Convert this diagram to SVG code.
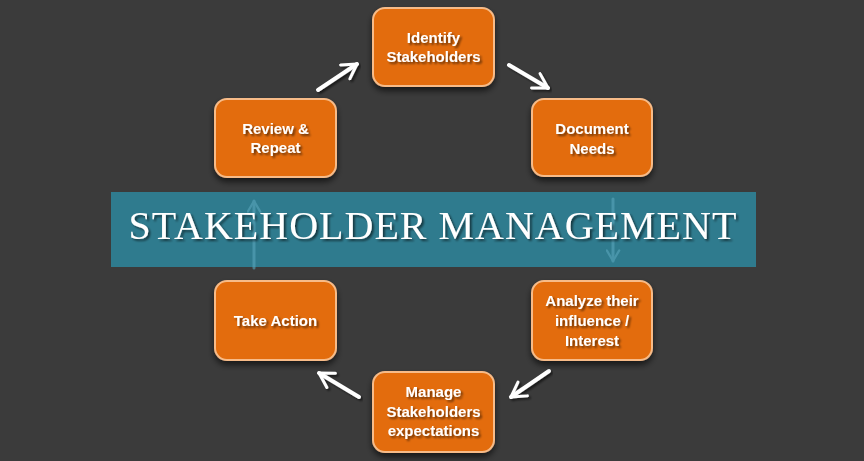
<svg xmlns="http://www.w3.org/2000/svg" width="864" height="461" viewBox="0 0 864 461">
<defs>
<style>
.node rect{fill:#e36c0a;stroke:#f7bb88;stroke-width:2;}
.node text{fill:#ffffff;font-family:"Liberation Sans",Arial,sans-serif;font-weight:bold;font-size:15px;text-anchor:middle;}
.conn{stroke:#ffffff;stroke-width:4;fill:none;stroke-linecap:round;}
.faint{stroke:#5aa6bb;stroke-width:3;fill:none;stroke-linecap:round;opacity:0.6;}
.title{fill:#ffffff;font-family:"Liberation Serif","Times New Roman",serif;font-size:40px;letter-spacing:1px;}
</style>
<filter id="sh" x="-20%" y="-20%" width="140%" height="150%">
<feGaussianBlur in="SourceAlpha" stdDeviation="3"/>
<feOffset dx="0" dy="4" result="b"/>
<feComponentTransfer><feFuncA type="linear" slope="0.6"/></feComponentTransfer>
<feMerge><feMergeNode/><feMergeNode in="SourceGraphic"/></feMerge>
</filter>
<filter id="tsh" x="-10%" y="-30%" width="120%" height="160%">
<feGaussianBlur in="SourceAlpha" stdDeviation="1.2"/>
<feOffset dx="1.5" dy="2"/>
<feComponentTransfer><feFuncA type="linear" slope="0.55"/></feComponentTransfer>
<feMerge><feMergeNode/><feMergeNode in="SourceGraphic"/></feMerge>
</filter>
<marker id="ah" viewBox="0 0 12 12" refX="10" refY="6" markerWidth="5" markerHeight="5" markerUnits="strokeWidth" orient="auto">
<path d="M1.5,1 L10,6 L1.5,11" fill="none" stroke="#ffffff" stroke-width="1.8" stroke-linecap="round" stroke-linejoin="round"/>
</marker>
<marker id="ahf" viewBox="0 0 12 12" refX="10" refY="6" markerWidth="5" markerHeight="5" markerUnits="strokeWidth" orient="auto">
<path d="M1.5,1 L10,6 L1.5,11" fill="none" stroke="#5aa6bb" stroke-width="1.8" stroke-linecap="round" stroke-linejoin="round"/>
</marker>
</defs>
<rect x="0" y="0" width="864" height="461" fill="#3b3b3b"/>

<g id="banner">
<rect x="111" y="192" width="645" height="75" fill="#2f7b8e"/>
</g>

<g id="connectors">
<line class="conn" x1="318" y1="90" x2="357" y2="64" marker-end="url(#ah)" filter="url(#tsh)"/>
<line class="conn" x1="509" y1="65" x2="548" y2="88" marker-end="url(#ah)" filter="url(#tsh)"/>
<line class="conn" x1="549" y1="371" x2="511" y2="397" marker-end="url(#ah)" filter="url(#tsh)"/>
<line class="conn" x1="359" y1="397" x2="319" y2="373" marker-end="url(#ah)" filter="url(#tsh)"/>
<line class="faint" x1="613" y1="199" x2="613" y2="261" marker-end="url(#ahf)"/>
<line class="faint" x1="254" y1="268" x2="254" y2="201" marker-end="url(#ahf)"/>
</g>

<text class="title" x="433" y="239" text-anchor="middle" filter="url(#tsh)">STAKEHOLDER MANAGEMENT</text>

<g id="identify" class="node">
<rect x="373" y="8" width="121" height="78" rx="12" filter="url(#sh)"/>
<text x="433.5" y="43" filter="url(#tsh)">Identify</text>
<text x="433.5" y="62" filter="url(#tsh)">Stakeholders</text>
</g>
<g id="document" class="node">
<rect x="532" y="99" width="120" height="77" rx="12" filter="url(#sh)"/>
<text x="592" y="134" filter="url(#tsh)">Document</text>
<text x="592" y="154" filter="url(#tsh)">Needs</text>
</g>
<g id="analyze" class="node">
<rect x="532" y="281" width="120" height="79" rx="12" filter="url(#sh)"/>
<text x="592" y="306" filter="url(#tsh)">Analyze their</text>
<text x="592" y="326" filter="url(#tsh)">influence /</text>
<text x="592" y="346" filter="url(#tsh)">Interest</text>
</g>
<g id="manage" class="node">
<rect x="373" y="372" width="121" height="80" rx="12" filter="url(#sh)"/>
<text x="433.5" y="397" filter="url(#tsh)">Manage</text>
<text x="433.5" y="417" filter="url(#tsh)">Stakeholders</text>
<text x="433.5" y="436" filter="url(#tsh)">expectations</text>
</g>
<g id="takeaction" class="node">
<rect x="215" y="281" width="121" height="79" rx="12" filter="url(#sh)"/>
<text x="275.5" y="326" filter="url(#tsh)">Take Action</text>
</g>
<g id="review" class="node">
<rect x="215" y="99" width="121" height="78" rx="12" filter="url(#sh)"/>
<text x="275.5" y="134" filter="url(#tsh)">Review &amp;</text>
<text x="275.5" y="153" filter="url(#tsh)">Repeat</text>
</g>
</svg>
